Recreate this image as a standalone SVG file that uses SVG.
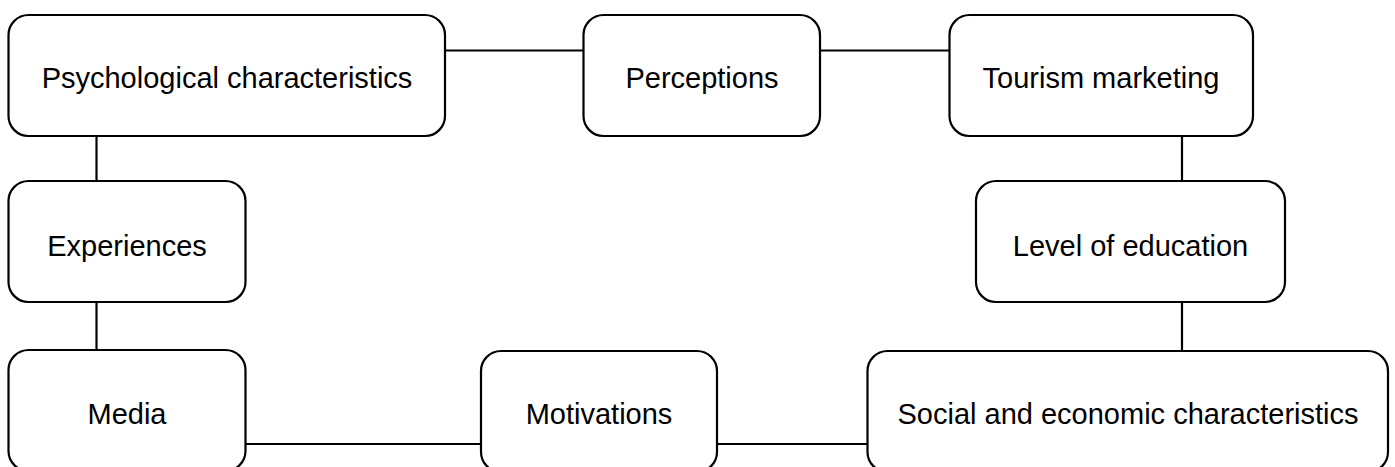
<svg xmlns="http://www.w3.org/2000/svg" width="1395" height="467" viewBox="0 0 1395 467">
  <style>
    .box { fill: #ffffff; stroke: #000000; stroke-width: 2.2; }
    .lbl { font-family: "Liberation Sans", Arial, sans-serif; font-size: 29px; fill: #000000; text-anchor: middle; }
    .conn { stroke: #000000; stroke-width: 2.2; fill: none; }
  </style>
  <rect x="0" y="0" width="1395" height="467" fill="#ffffff"/>
  <g id="connectors">
    <line class="conn" x1="445" y1="50.5" x2="583.5" y2="50.5"/>
    <line class="conn" x1="820" y1="50.5" x2="949.5" y2="50.5"/>
    <line class="conn" x1="96.5" y1="136" x2="96.5" y2="181"/>
    <line class="conn" x1="96.5" y1="302" x2="96.5" y2="350"/>
    <line class="conn" x1="1182" y1="136" x2="1182" y2="181"/>
    <line class="conn" x1="1182" y1="302" x2="1182" y2="351"/>
    <line class="conn" x1="245.5" y1="444" x2="481" y2="444"/>
    <line class="conn" x1="717" y1="444" x2="867.5" y2="444"/>
  </g>
  <g id="psychological">
    <rect class="box" x="8.5" y="15" width="436.5" height="121" rx="20"/>
    <text class="lbl" x="227" y="88">Psychological characteristics</text>
  </g>
  <g id="perceptions">
    <rect class="box" x="583.5" y="15" width="236.5" height="121" rx="20"/>
    <text class="lbl" x="702" y="88">Perceptions</text>
  </g>
  <g id="tourism">
    <rect class="box" x="949.5" y="15" width="303.5" height="121" rx="20"/>
    <text class="lbl" x="1101" y="88">Tourism marketing</text>
  </g>
  <g id="experiences">
    <rect class="box" x="8.5" y="181" width="237" height="121" rx="20"/>
    <text class="lbl" x="127" y="256">Experiences</text>
  </g>
  <g id="education">
    <rect class="box" x="976" y="181" width="309" height="121" rx="20"/>
    <text class="lbl" x="1130.5" y="256">Level of education</text>
  </g>
  <g id="media">
    <rect class="box" x="8.5" y="350" width="237" height="121" rx="20"/>
    <text class="lbl" x="127" y="424">Media</text>
  </g>
  <g id="motivations">
    <rect class="box" x="481" y="351" width="236" height="121" rx="20"/>
    <text class="lbl" x="599" y="424">Motivations</text>
  </g>
  <g id="social">
    <rect class="box" x="867.5" y="351" width="520.5" height="121" rx="20"/>
    <text class="lbl" x="1128" y="424">Social and economic characteristics</text>
  </g>
</svg>
